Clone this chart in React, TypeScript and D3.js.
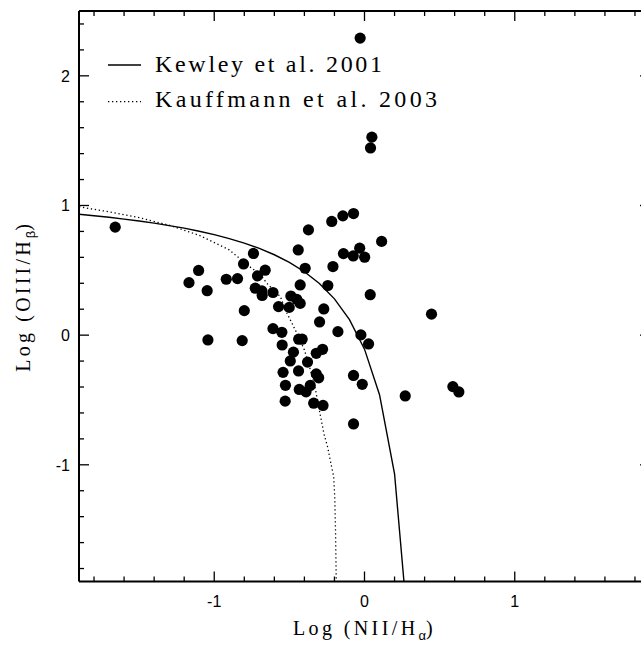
import React from "react";
import * as d3 from "d3";

// ---- data ----
const nii = [
  -1.659, -1.168, -1.104, -1.047, -1.042, -0.92, -0.845, -0.814, -0.805, -0.8,
  -0.739, -0.727, -0.712, -0.683, -0.681, -0.661, -0.609, -0.572, -0.501, -0.49,
  -0.451, -0.428, -0.428, -0.441, -0.395, -0.373, -0.271, -0.299, -0.244, -0.21,
  -0.218, -0.144, -0.073, -0.14, -0.075, -0.032, 0.001, 0.114, 0.038, 0.446,
  -0.029, 0.049, 0.04, -0.609, -0.55, -0.548, -0.438, -0.415, -0.473, -0.321,
  -0.279, -0.494, -0.379, -0.542, -0.439, -0.321, -0.305, -0.526, -0.434, -0.389,
  -0.361, -0.528, -0.338, -0.276, -0.177, -0.024, 0.027, -0.073, -0.015, -0.073,
  0.271, 0.588, 0.628,
];
const oiii = [
  0.833, 0.405, 0.499, 0.343, -0.037, 0.431, 0.436, -0.042, 0.549, 0.189,
  0.63, 0.362, 0.457, 0.341, 0.306, 0.501, 0.329, 0.22, 0.214, 0.302,
  0.277, 0.245, 0.387, 0.657, 0.516, 0.812, 0.202, 0.102, 0.383, 0.529,
  0.877, 0.92, 0.938, 0.629, 0.611, 0.671, 0.601, 0.723, 0.312, 0.162,
  2.291, 1.527, 1.444, 0.05, 0.022, -0.076, -0.031, -0.031, -0.131, -0.14,
  -0.109, -0.199, -0.208, -0.287, -0.276, -0.299, -0.329, -0.387, -0.419, -0.437,
  -0.388, -0.509, -0.525, -0.542, 0.027, 0.002, -0.068, -0.311, -0.379, -0.685,
  -0.469, -0.397, -0.438,
];

// Kewley et al. 2001 line (vertices)
const kewleyX = [
  -1.9, -1.8, -1.7, -1.6, -1.5, -1.4, -1.3, -1.2, -1.1, -1.0, -0.9, -0.8,
  -0.7, -0.6, -0.5, -0.4, -0.3, -0.2, -0.1, 0.0, 0.1, 0.2, 0.3,
];
const kewleyY = [
  0.933, 0.921, 0.909, 0.895, 0.88, 0.864, 0.845, 0.825, 0.801, 0.775, 0.745,
  0.71, 0.669, 0.62, 0.561, 0.489, 0.398, 0.28, 0.12, -0.108, -0.459, -1.069,
  -2.398,
];

// Kauffmann et al. 2003 line (vertices)
const kauffX = [
  -1.9, -1.7, -1.5, -1.3, -1.1, -0.9, -0.78, -0.69, -0.65, -0.56, -0.516,
  -0.45, -0.4, -0.36, -0.33, -0.305, -0.27, -0.245, -0.224, -0.205, -0.198,
  -0.193, -0.188,
];
const kauffY = [
  0.99, 0.951, 0.906, 0.848, 0.77, 0.658, 0.542, 0.464, 0.4, 0.297, 0.169,
  0.015, -0.114, -0.269, -0.397, -0.552, -0.76, -0.865, -0.988, -1.09, -1.25,
  -1.5, -1.9,
];

const xDomain = [-1.9, 1.9];
const yDomain = [-1.9, 2.5];
const xTicks = [-1, 0, 1];
const yTicks = [-1, 0, 1, 2];
const legendLabels = ["Kewley et al. 2001", "Kauffmann et al. 2003"];

export default function App() {
  const W = 641;
  const H = 645;
  const left = 79;
  const right = 650;
  const top = 11;
  const bottom = 581.5;
  const x = d3.scaleLinear().domain(xDomain).range([left, right]);
  const y = d3.scaleLinear().domain(yDomain).range([bottom, top]);

  const xMinor = d3.range(-1.8, 1.81, 0.2).map((v) => Math.round(v * 10) / 10);
  const yMinor = d3.range(-1.8, 2.41, 0.2).map((v) => Math.round(v * 10) / 10);
  const isMajor = (v: number) => Math.abs(v - Math.round(v)) < 1e-6;

  const line = d3
    .line<[number, number]>()
    .x((d) => x(d[0]))
    .y((d) => y(d[1]));
  const kew = line(kewleyX.map((v, i) => [v, kewleyY[i]] as [number, number]));
  const kau = line(kauffX.map((v, i) => [v, kauffY[i]] as [number, number]));

  const serif = "'Liberation Serif', 'Times New Roman', serif";
  const sans = "'Liberation Sans', Arial, sans-serif";

  return (
    <svg
      width={W}
      height={H}
      style={{ position: "absolute", left: 0, top: 0, background: "#fff" }}
    >
      <defs>
        <clipPath id="plot">
          <rect x={left} y={top} width={right - left} height={bottom - top} />
        </clipPath>
      </defs>
      <rect x={0} y={0} width={W} height={H} fill="#fff" />

      {/* curves */}
      <g clipPath="url(#plot)" fill="none" stroke="#000">
        <path d={kew || ""} strokeWidth={1.4} />
        <path d={kau || ""} strokeWidth={1.3} strokeDasharray="1.3,2.7" />
      </g>

      {/* points */}
      <g fill="#000">
        {nii.map((v, i) => (
          <circle key={i} cx={x(v)} cy={y(oiii[i])} r={5.6} />
        ))}
      </g>

      {/* frame */}
      <g stroke="#000" fill="none">
        <line x1={left} x2={right} y1={top} y2={top} strokeWidth={2} />
        <line x1={left} x2={right} y1={bottom} y2={bottom} strokeWidth={2} />
        <line x1={left} x2={left} y1={top} y2={bottom} strokeWidth={2} />
        <line x1={right} x2={right} y1={top} y2={bottom} strokeWidth={2} />
      </g>

      {/* ticks */}
      <g stroke="#000" strokeWidth={1.3}>
        {xMinor.map((v) => {
          const len = isMajor(v) ? 10 : 5;
          return (
            <g key={"x" + v}>
              <line x1={x(v)} x2={x(v)} y1={bottom} y2={bottom - len} />
              <line x1={x(v)} x2={x(v)} y1={top} y2={top + len} />
            </g>
          );
        })}
        {yMinor.map((v) => {
          const len = isMajor(v) ? 10 : 5;
          return (
            <g key={"y" + v}>
              <line x1={left} x2={left + len} y1={y(v)} y2={y(v)} />
              <line x1={right} x2={right - len} y1={y(v)} y2={y(v)} />
            </g>
          );
        })}
      </g>

      {/* tick labels */}
      <g fontFamily={sans} fontSize={16} fill="#000">
        {xTicks.map((v) => (
          <text key={"xl" + v} x={x(v)} y={607} textAnchor="middle">
            {v}
          </text>
        ))}
        {yTicks.map((v) => (
          <text key={"yl" + v} x={70} y={y(v) + 6} textAnchor="end">
            {v}
          </text>
        ))}
      </g>

      {/* axis titles */}
      <text
        x={(left + right) / 2}
        y={635}
        textAnchor="middle"
        fontFamily={serif}
        fontSize={20}
        letterSpacing={3.4}
      >
        <tspan>Log (NII/H</tspan>
        <tspan fontSize={13} dy={5} fontFamily={sans} letterSpacing={0}>
          α
        </tspan>
        <tspan dy={-5}>)</tspan>
      </text>
      <text
        transform={`translate(30, ${(top + bottom) / 2}) rotate(-90)`}
        textAnchor="middle"
        fontFamily={serif}
        fontSize={20}
        letterSpacing={3.2}
      >
        <tspan>Log (OIII/H</tspan>
        <tspan fontSize={13} dy={5} fontFamily={sans} letterSpacing={0}>
          β
        </tspan>
        <tspan dy={-5}>)</tspan>
      </text>

      {/* legend */}
      <g stroke="#000" fill="none">
        <line x1={108} x2={141} y1={65} y2={65} strokeWidth={1.4} />
        <line
          x1={108}
          x2={141}
          y1={101.7}
          y2={101.7}
          strokeWidth={1.3}
          strokeDasharray="1.3,2.7"
        />
      </g>
      <g fontFamily={serif} fontSize={24} fill="#000">
        <text x={155} y={72} textLength={227} lengthAdjust="spacing">
          {legendLabels[0]}
        </text>
        <text x={155} y={106.7} textLength={282} lengthAdjust="spacing">
          {legendLabels[1]}
        </text>
      </g>
    </svg>
  );
}
